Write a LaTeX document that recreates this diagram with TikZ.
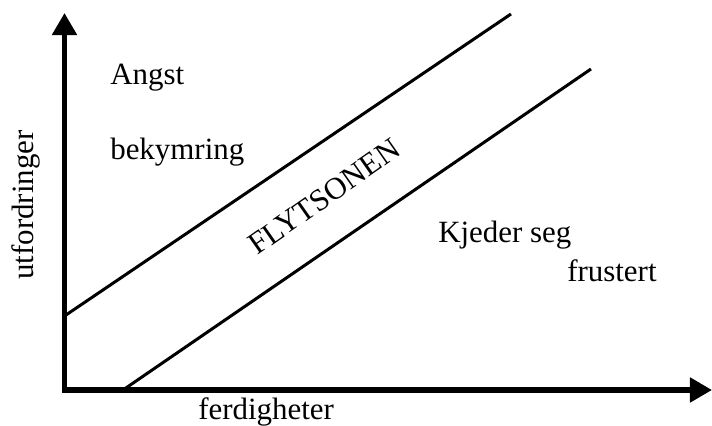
\documentclass[tikz,border=0pt]{standalone}
\usepackage{fontspec}
\setmainfont{Liberation Serif}
\usetikzlibrary{arrows.meta}

\begin{document}
\begin{tikzpicture}[x=0.025cm,y=-0.025cm,
    axis/.style={line width=0.125cm,
      {Triangle[length=0.55cm,width=0.6cm]}-{Triangle[length=0.55cm,width=0.6cm]}},
    zone/.style={line width=0.075cm},
    lbl/.style={font=\fontsize{22}{26}\selectfont,inner sep=0pt}]
    \useasboundingbox (0,0) rectangle (712,426);

    % Define the points of the axes and the zone
    \coordinate (O) at (64.5,390);
    \coordinate (Y) at (64.5,13);
    \coordinate (X) at (712,390);
    \coordinate (A1) at (64.5,316);
    \coordinate (A2) at (511,14);
    \coordinate (B1) at (123,390);
    \coordinate (B2) at (591,69);

    % Draw the axes
    \draw[axis] (Y) -- (O) -- (X);

    % Draw the two borders of the zone
    \draw[zone] (A1) -- (A2);
    \draw[zone] (B1) -- (B2);

    % Place the labels
    \node (angst) at (110,85) [lbl,anchor=base west] {Angst};
    \node (bek) at (110,160) [lbl,anchor=base west] {bekymring};
    \node (flyt) at (330,205) [lbl,anchor=base,rotate=35] {FLYTSONEN};
    \node (kjed) at (438,243) [lbl,anchor=base west] {Kjeder seg};
    \node (frus) at (567,282) [lbl,anchor=base west] {frustert};
    \node (ferd) at (198,419) [lbl,anchor=base west] {ferdigheter};
    \node (utf) at (33,280) [lbl,anchor=base west,rotate=90] {utfordringer};

\end{tikzpicture}
\end{document}
